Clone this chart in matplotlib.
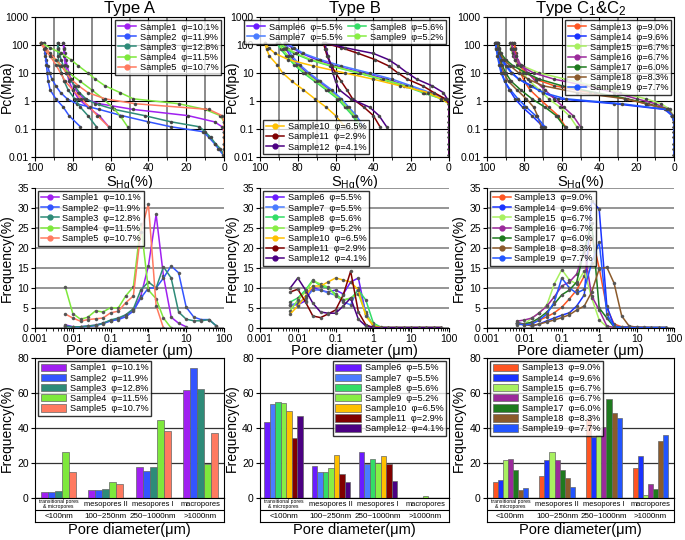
import matplotlib
matplotlib.use('Agg')
import matplotlib.pyplot as plt
import numpy as np
from matplotlib.ticker import NullLocator, FixedLocator
from matplotlib.lines import Line2D

plt.rcParams['font.family'] = ['Liberation Sans', 'DejaVu Sans']
plt.rcParams['mathtext.fontset'] = 'custom'
plt.rcParams['mathtext.rm'] = 'Liberation Sans'
plt.rcParams['mathtext.it'] = 'Liberation Sans:italic'
nan = np.nan

# ---------------- capillary pressure curves ----------------
p_in = [0.012, 0.02, 0.03, 0.05, 0.08, 0.12, 0.18, 0.3, 0.5, 0.8, 1.2, 2, 3.5, 6, 10, 18, 30, 50, 80, 120]
p_out = [120, 70, 40, 20, 10, 5, 2.5, 1.2, 0.6, 0.3, 0.12]

# Type A
sin_1 = [0, 0, 0, 0, 0, 1, 5, 19, 48, 66, 74, 77.5, 79.5, 81, 82, 83, 83.7, 84.2, 84.6, 85]
sin_2 = [0.5, 3, 5, 8, 11, 28, 40, 54, 66, 78, 83, 86.5, 89, 91, 92.3, 93.3, 94, 94.5, 94.8, 95]
sin_3 = [0, 2, 4.5, 7, 10, 13, 28, 42, 58, 68, 73, 76.5, 79, 81.5, 83.5, 85, 86.2, 87, 87.6, 88]
sin_4 = [0, 0, 0, 0, 0, 0, 0, 2, 10, 24, 48, 55, 63, 68, 72, 77, 81, 86, 92, 97]
sin_5 = [0, 0, 0, 0, 0, 0, 0, 1, 8, 47, 63, 72, 77, 81, 83.5, 86, 89, 92, 94.5, 97]
sout_1 = [85, 84.8, 84.5, 84, 83, 82, 80, 77, 72, 66, 61]
sout_2 = [95, 94.8, 94.5, 94, 93.5, 93, 92, 89, 85, 82, 76]
sout_3 = [88, 88, 87.8, 87.2, 86, 84.5, 82.5, 79, 76, 72, 67.5]
sout_4 = [97, 94, 91, 87, 82, 76, 70, 64, 59, 55, 51]
sout_5 = [97, 95, 92, 89, 86.5, 84, 80, 75.5, 71, 67, 61]

# Type B
sin_6 = [0, 0, 0, 0, 0, 0, 0, 0, 0, 0, 3, 12, 22, 33, 45, 60, 70, 78, 83, 87]
sin_7 = [0, 0, 0, 0, 0, 0, 0, 0, 0, 0, 2, 10, 20, 30, 42, 57, 68, 77, 82, 86]
sin_8 = [0, 0, 0, 0, 0, 0, 0, 0, 0, 0, 4, 14, 24, 36, 48, 63, 74, 82, 87, 91]
sin_9 = [0, 0, 0, 0, 0, 0, 0, 0, 0, 0, 4, 13, 23, 35, 47, 62, 73, 81, 86, 90]
sin_10 = [0, 0, 0, 0, 0, 0, 0, 0, 0, 0, 4, 11, 26, 40, 55, 72, 85, 92, 95.5, 97.5]
sin_11 = [0, 0, 0, 0, 0, 0, 0, 0, 0, 0, 2, 8, 14, 22, 27, 32, 39, 48, 57, 66.5]
sin_12 = [0, 0, 0, 0, 0, 0, 0, 0, 0, 0, 1, 3, 9, 17, 22, 27, 32, 40, 55, 65.6]
sout_6 = [87, 86, 84, 80, 75, 69, 63, 58, 54, 50, 46]
sout_7 = [86, 85, 83, 79, 74, 68, 62, 57, 53, 49, 45]
sout_8 = [91, 89, 86, 82, 77, 71, 65, 59, 55, 51, 47]
sout_9 = [90, 88, 85, 81, 76, 70, 64, 58, 54, 50, 46.5]
sout_10 = [97.5, 96.5, 95, 91, 88, 83, 77, 71, 65, 60, 55]
sout_11 = [66.5, 65.5, 64.5, 62.5, 60, 57, 54, 51, 45, 40, 36.5]
sout_12 = [65.6, 65, 64, 62.5, 61.5, 60, 58, 52, 42, 37, 33]

# Type C1 & C2
sin_13 = [0, 0, 0, 0, 0, 0, 0, 1, 4, 15, 26, 45, 64, 74, 79, 82.5, 84, 84.7, 85, 85.5]
sin_14 = [0, 0, 0, 0, 0, 0, 0, 1, 5, 32, 62, 70, 76, 83, 86.5, 89.5, 92, 93.5, 94.5, 95]
sin_15 = [0, 0, 0, 0, 0, 0, 0, 0.5, 2, 7, 15, 29, 43, 58, 72, 81, 85, 86.3, 87, 87.5]
sin_16 = [0, 0, 0, 0, 0, 0, 0, 0.5, 3, 10, 20, 32, 47, 64, 75, 82, 85, 86, 86.5, 86.8]
sin_17 = [0, 0, 0, 0, 0, 0, 0, 1, 3, 14, 25, 42, 60, 72, 79, 86, 90, 92.5, 93.5, 94]
sin_18 = [0, 0, 0, 0, 0, 0, 0, 1, 3, 15, 26, 52, 70, 78, 83, 87.5, 91, 93, 94, 94.5]
sin_19 = [0, 0, 0, 0, 0, 0, 0, 1, 4, 28, 58, 70, 77, 83, 87, 90, 92.5, 94, 95, 95.5]
sout_13 = [85.5, 85, 84.5, 83.5, 82, 80, 77, 72, 67, 62, 58]
sout_14 = [95, 94.5, 94, 93, 92, 90.5, 88, 85, 81, 76, 70]
sout_15 = [87.5, 87, 86, 84, 81, 77, 72, 67, 61, 56, 52]
sout_16 = [86.8, 86, 84.5, 82, 78, 74, 69, 64, 59, 54, 50]
sout_17 = [94, 93.5, 93, 92, 90, 87, 82, 76, 69, 63, 58.5]
sout_18 = [94.5, 94, 93.5, 92.5, 91, 88.5, 84, 79, 75, 73, 71]
sout_19 = [95.5, 95, 94.5, 93.5, 92.5, 90.5, 87.5, 83.5, 79, 74, 69]

# ---------------- pore size distribution ----------------
diam = [0.0063, 0.01, 0.016, 0.025, 0.04, 0.063, 0.1, 0.16, 0.25, 0.4, 0.63, 1,
        1.6, 2.5, 4, 6.3, 10, 16, 25, 40, 63]
f_1 = [0.8, 0.3, 0.3, 0.5, 0.7, 1.2, 1.8, 2.3, 3.2, 4.5, 8, 15.5, 28.4, 13, 2.7, 1.2, 0.3, nan, nan, nan, nan]
f_2 = [0.5, 0.3, 0.3, 0.4, 0.6, 1.1, 1.8, 2.1, 2.8, 4.2, 7.5, 10, 10, 12.5, 15.5, 13.8, 5.2, 2.7, 2.1, 2.1, 0.5]
f_3 = [0.4, 0.3, 0.3, 0.5, 0.7, 1.2, 2, 2.5, 3.3, 4.8, 9.5, 11.5, 10, 15.3, 12.5, 4, 2.2, 1.8, 1.8, 2.1, 0.5]
f_4 = [10.3, 3.6, 2.2, 2.7, 4.3, 4.0, 5.1, 5.0, 8.0, 10.3, 26, 9.5, 7.3, 2.5, 0, nan, nan, nan, nan, nan, nan]
f_5 = [3.5, 2.5, 1.7, 2.1, 2.3, 2.5, 3.8, 4.2, 6.3, 8.0, 24, 31, 5.6, 0, nan, nan, nan, nan, nan, nan, nan]
f_6 = [5.8, 5.8, 6.8, 10.2, 9.4, 9.0, 9.5, 8.5, 11.5, 12.5, 3.5, 0.5, 0.1, 0.1, 0.1, 0.1, 0.1, 0.1, 0.1, 0.1, 0.1]
f_7 = [5.8, 6.2, 7.5, 9.5, 9.5, 8.8, 8.2, 6.5, 5.8, 10, 4, 0.5, 0.1, 0.1, 0.1, 0.1, 0.1, 0.1, 0.1, 0.1, 0.1]
f_8 = [6.5, 7.5, 9.5, 12.0, 10.5, 10, 8.5, 7, 7.3, 9.5, 7, 1.2, 0.2, 0.1, 0.1, 0.1, 0.1, 0.1, 0.1, 0.1, 0.1]
f_9 = [4.3, 7, 9, 11.8, 11, 10.2, 8, 7, 7.5, 8.5, 3.5, 0.8, 0.1, 0.1, 0.1, 0.1, 0.1, 0.1, 0.1, 0.1, 0.1]
f_10 = [3.5, 5.5, 8, 10.5, 10.5, 11.5, 12.5, 12, 11.5, 9.5, 3.0, 0.5, 0.1, 0.1, 0.1, 0.1, 0.1, 0.1, 0.1, 0.1, 0.1]
f_11 = [9, 9.7, 6.5, 3, 2.6, 3.5, 4.5, 8.3, 14.2, 4, 0.8, 0.1, 0.1, 0.1, 0.1, 0.1, 0.1, 0.1, 0.1, 0.1, 0.1]
f_12 = [10, 12.5, 9.5, 6.2, 4, 3.7, 3.7, 5.5, 7.5, 2.2, 0.5, 0.1, 0.1, 0.1, 0.1, 0.1, 0.1, 0.1, 0.1, 0.1, 0.1]
f_13 = [1.3, 0.8, 1.2, 2, 2.8, 3.8, 5.2, 7.3, 9.5, 13, 23, 15, 5, 1, 0.3, 0.3, 0.2, 0.2, 0.1, 0.1, 0.1]
f_14 = [1.3, 1.0, 0.5, 1.0, 1.8, 2.5, 3.2, 3.8, 5.5, 8.3, 31.8, 29.7, 5.5, 0.5, 0.2, 0.2, 0.1, 0.1, 0.1, 0.1, 0.1]
f_15 = [0.8, 1.0, 2.5, 3.8, 5.8, 11, 14.6, 12, 11, 14.3, 7.5, 2, 0.3, 0.1, 0.1, 0.1, 0.1, 0.1, 0.1, 0.1, 0.1]
f_16 = [1.7, 2.0, 2.5, 3.8, 5.5, 7.8, 10.5, 11.5, 13.5, 19.5, 8, 4.5, 0.5, 0.1, 0.1, 0.1, 0.1, 0.1, 0.1, 0.1, 0.1]
f_17 = [1.2, 1.0, 1.5, 2.5, 4.0, 6.0, 8.3, 9.5, 11.5, 19.5, 26.2, 5, 2.5, 0.3, 0.1, 0.1, 0.1, 0.1, 0.1, 0.1, 0.1]
f_18 = [1.3, 0.9, 0.6, 1.0, 1.5, 2.0, 2.6, 3.3, 4.5, 5.5, 9, 14.8, 15.2, 11.2, 3, 0.5, 0.2, 0.1, 0.1, 0.1, 0.1]
f_19 = [1.0, 0.8, 1.0, 2.0, 3.5, 6.5, 12.5, 10, 8.7, 9.7, 16.3, 21.5, 3.5, 0.3, 0.1, 0.1, 0.1, 0.1, 0.1, 0.1, 0.1]

# ---------------- pore type fractions ----------------
pore_names = ['transitional pores\n& micropores', 'mesopores II', 'mesopores I', 'macropores']
pore_ranges = ['<100nm', '100~250nm', '250~1000nm', '>1000nm']
b_1 = [3.2, 4.5, 17.5, 61.5]
b_2 = [3.7, 4.3, 15.7, 74.5]
b_3 = [4.2, 5.0, 18, 62.3]
b_4 = [26.5, 9.3, 44.5, 19.5]
b_5 = [14.8, 8.2, 38.3, 37.2]
b_6 = [43.5, 18.3, 26.5, 0]
b_7 = [54, 15, 19.2, 0]
b_8 = [55, 15, 22.3, 0]
b_9 = [54.5, 17.2, 20, 1.0]
b_10 = [49.7, 24.5, 24.2, 0]
b_11 = [34.5, 13.5, 19.2, 0]
b_12 = [47, 9.3, 10, 0]
b_13 = [9.3, 12.5, 46, 17]
b_14 = [10.5, 22, 35, 24]
b_15 = [21.8, 26.3, 36, 2]
b_16 = [22.5, 22, 40.5, 7.8]
b_17 = [16, 15.8, 56.3, 5.2]
b_18 = [4.3, 11.2, 48.5, 32.8]
b_19 = [6, 6.5, 46, 35.8]

sample_labels = ['Sample1  φ=10.1%', 'Sample2  φ=11.9%', 'Sample3  φ=12.8%', 'Sample4  φ=11.5%',
                 'Sample5  φ=10.7%', 'Sample6  φ=5.5%', 'Sample7  φ=5.5%', 'Sample8  φ=5.6%',
                 'Sample9  φ=5.2%', 'Sample10  φ=6.5%', 'Sample11  φ=2.9%', 'Sample12  φ=4.1%',
                 'Sample13  φ=9.0%', 'Sample14  φ=9.6%', 'Sample15  φ=6.7%', 'Sample16  φ=6.7%',
                 'Sample17  φ=6.0%', 'Sample18  φ=8.3%', 'Sample19  φ=7.7%']
colors = ['#a020f0', '#3355ff', '#2e8b78', '#7ee83c', '#ff7a60',
          '#6a1bff', '#4a7cff', '#33dd66', '#88ee44', '#ffc000', '#800000', '#4b0082',
          '#ff5522', '#1a33ff', '#a8f060', '#9b2a9b', '#1e7a1e', '#8b5a2b', '#2255ff']

s_in = [sin_1, sin_2, sin_3, sin_4, sin_5, sin_6, sin_7, sin_8, sin_9, sin_10, sin_11, sin_12,
        sin_13, sin_14, sin_15, sin_16, sin_17, sin_18, sin_19]
s_out = [sout_1, sout_2, sout_3, sout_4, sout_5, sout_6, sout_7, sout_8, sout_9, sout_10, sout_11, sout_12,
         sout_13, sout_14, sout_15, sout_16, sout_17, sout_18, sout_19]
freqs = [f_1, f_2, f_3, f_4, f_5, f_6, f_7, f_8, f_9, f_10, f_11, f_12,
         f_13, f_14, f_15, f_16, f_17, f_18, f_19]
bars = [b_1, b_2, b_3, b_4, b_5, b_6, b_7, b_8, b_9, b_10, b_11, b_12,
        b_13, b_14, b_15, b_16, b_17, b_18, b_19]
groups = [range(0, 5), range(5, 12), range(12, 19)]
titles = ['Type A', 'Type B', 'Type C$_1$&C$_2$']

W, H = 685, 540
fig = plt.figure(figsize=(6.85, 5.4), dpi=100)


def px_axes(x, top, w, h):
    return fig.add_axes([x / W, 1 - (top + h) / H, w / W, h / H])


lefts = [35, 260, 487]
widths = [189, 189, 187]
leg_kw = dict(fontsize=6.6, frameon=True, fancybox=False, edgecolor='k', borderpad=0.3,
              labelspacing=0.12, handlelength=2.0, handletextpad=0.4, borderaxespad=0.3)


def ylab(ax, text, w):
    ax.set_ylabel(text, fontsize=10)
    ax.yaxis.set_label_coords(-21.0 / w, 0.5)


for c in range(3):
    idx = list(groups[c])
    # ---- row 1: capillary pressure ----
    ax = px_axes(lefts[c], 17, widths[c], 140)
    handles = []
    for i in idx:
        kw = dict(color=colors[i], lw=1.1, marker='o', ms=2.2, mfc='#444444', mec='#444444', mew=0.3)
        ax.plot(s_in[i], p_in, **kw)
        ax.plot(s_out[i], p_out, **kw)
        handles.append(Line2D([], [], color=colors[i], lw=1.1, marker='o', ms=3.5,
                              mfc=colors[i], mec=colors[i], label=sample_labels[i]))
    ax.set_yscale('log')
    ax.set_xlim(100, 0)
    ax.set_ylim(0.01, 1000)
    ax.set_yticks([0.01, 0.1, 1, 10, 100, 1000])
    ax.set_yticklabels(['0.01', '0.1', '1', '10', '100', '1000'])
    ax.yaxis.set_minor_locator(NullLocator())
    ax.set_xticks([100, 80, 60, 40, 20, 0])
    ax.xaxis.set_minor_locator(FixedLocator([90, 70, 50, 30, 10]))
    ax.grid(which='major', color='k', lw=0.8)
    ax.grid(which='minor', axis='x', color='#777777', lw=1.2)
    ax.set_axisbelow(True)
    ax.tick_params(labelsize=7.5, length=3, pad=1.5)
    ax.tick_params(which='minor', length=2)
    ylab(ax, 'Pc(Mpa)', widths[c])
    ax.set_xlabel('S$_{\\mathrm{Hg}}$(%)', fontsize=10.5, labelpad=0)
    fig.text((lefts[c] + widths[c] / 2) / W, 1 - 9 / H, titles[c], fontsize=12,
             ha='center', va='center')
    if c == 1:
        l1 = ax.legend(handles=handles[:4], loc='upper right', ncol=2, columnspacing=0.6, **leg_kw)
        ax.add_artist(l1)
        ax.legend(handles=handles[4:], loc='lower left', **leg_kw)
    else:
        ax.legend(handles=handles, loc='upper right', **leg_kw)

    # ---- row 2: pore size distribution ----
    ax = px_axes(lefts[c], 188, widths[c], 140)
    handles = []
    for i in idx:
        ax.plot(diam, freqs[i], color=colors[i], lw=1.1, marker='o', ms=2.2,
                mfc='#555555', mec='#555555', mew=0.3)
        handles.append(Line2D([], [], color=colors[i], lw=1.1, marker='o', ms=3.5,
                              mfc=colors[i], mec=colors[i], label=sample_labels[i]))
    ax.set_xscale('log')
    ax.set_xlim(0.001, 100)
    ax.set_ylim(0, 35)
    ax.set_yticks(range(0, 36, 5))
    ax.set_xticks([0.001, 0.01, 0.1, 1, 10, 100])
    ax.set_xticklabels(['0.001', '0.01', '0.1', '1', '10', '100'])
    ax.grid(axis='y', color='#8c8c8c', lw=1.3)
    ax.set_axisbelow(True)
    ax.spines['top'].set_visible(False)
    ax.spines['right'].set_visible(False)
    ax.tick_params(labelsize=7.5, length=3, pad=1.5)
    ylab(ax, 'Frequency(%)', widths[c])
    ax.set_xlabel('Pore diameter (μm)', fontsize=10.5, labelpad=0)
    ax.legend(handles=handles, loc='upper left', **leg_kw)

    # ---- row 3: pore type fractions ----
    ax = px_axes(lefts[c], 358, widths[c], 140)
    n = len(idx)
    bw = [0.148, 0.117, 0.109][c]
    x0 = np.arange(4)
    for k, i in enumerate(idx):
        ax.bar(x0 + (k - (n - 1) / 2) * bw, bars[i], width=bw, color=colors[i],
               edgecolor='#666666', lw=0.5, label=sample_labels[i], zorder=3)
    ax.set_xlim(-0.5, 3.5)
    ax.set_ylim(0, 80)
    ax.set_yticks([0, 20, 40, 60, 80])
    ax.set_xticks([])
    ax.grid(axis='y', color='#333333', lw=0.9)
    ax.tick_params(labelsize=7.5, length=3, pad=1.5)
    ylab(ax, 'Frequency(%)', widths[c])
    ax.legend(loc='upper right' if c == 1 else 'upper left', handleheight=0.9,
              **dict(leg_kw, handlelength=2.8))

    tb = px_axes(lefts[c], 498, widths[c], 24)
    tb.set_xlim(-0.5, 3.5)
    tb.set_ylim(0, 2)
    tb.set_xticks([])
    tb.set_yticks([])
    tb.axhline(1, color='k', lw=0.8)
    for k in range(4):
        tb.text(k, 1.5, pore_names[k], ha='center', va='center',
                fontsize=3.7 if k == 0 else 5.4, linespacing=0.9)
        tb.text(k, 0.5, pore_ranges[k], ha='center', va='center', fontsize=5.8)
    tb.set_xlabel('Pore diameter(μm)', fontsize=10.5, labelpad=1)

fig.savefig('out.png', dpi=100)
